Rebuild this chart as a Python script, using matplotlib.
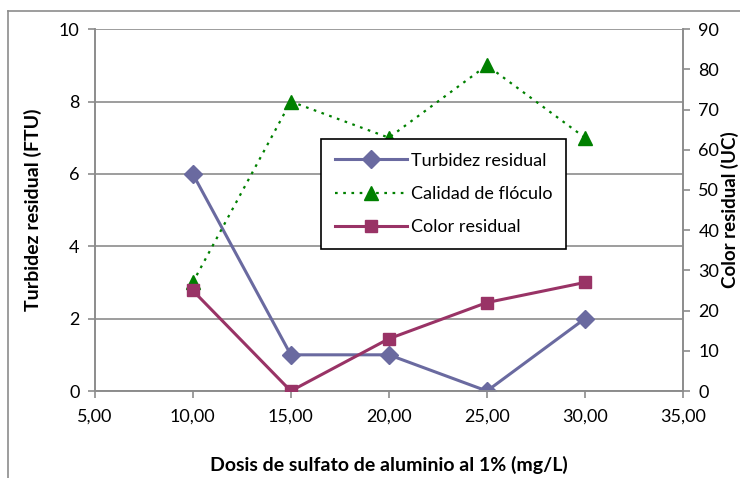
import matplotlib
matplotlib.use("Agg")
import matplotlib.pyplot as plt
from matplotlib.lines import Line2D
from matplotlib.ticker import FuncFormatter

dosis = [10, 15, 20, 25, 30]
turbidez = [6, 1, 1, 0, 2]
calidad = [3, 8, 7, 9, 7]
color_res = [25, 0, 13, 22, 27]

x_ticks = [5, 10, 15, 20, 25, 30, 35]
left_ticks = [0, 2, 4, 6, 8, 10]
right_ticks = [0, 10, 20, 30, 40, 50, 60, 70, 80, 90]

tick_font = "Lato"
title_font = "Lato"
gray = "#8c8c8c"

fig = plt.figure(figsize=(7.4, 4.78), dpi=100)
ax = fig.add_axes([0.128, 0.182, 0.795, 0.757])
ax2 = ax.twinx()

ax.set_xlim(5, 35)
ax.set_ylim(0, 10)
ax2.set_ylim(0, 90)
ax.set_xticks(x_ticks)
ax.set_yticks(left_ticks)
ax2.set_yticks(right_ticks)
ax.xaxis.set_major_formatter(FuncFormatter(lambda v, p: f"{v:.2f}".replace(".", ",")))

ax.grid(axis="y", color=gray, linewidth=1.2)
ax.set_axisbelow(True)
for a in (ax, ax2):
    a.spines["top"].set_visible(False)
    for s in ("left", "right", "bottom"):
        a.spines[s].set_color(gray)
        a.spines[s].set_linewidth(1.2)
    a.tick_params(colors=gray, length=5, width=1.2, labelcolor="black",
                  labelsize=13)
    for lab in a.get_xticklabels() + a.get_yticklabels():
        lab.set_fontfamily(tick_font)
ax.tick_params(axis="x", pad=8)
ax.tick_params(axis="y", pad=6)
ax2.tick_params(axis="y", pad=6)

l1, = ax.plot(dosis, turbidez, color="#6a6aa0", lw=2.2, marker="D",
              ms=9, label="Turbidez residual", zorder=3)
l2, = ax.plot(dosis, calidad, color="#008000", lw=1.6, ls=(0, (1.2, 2.5)),
              marker="^", ms=10, label="Calidad de flóculo", zorder=3)
l3, = ax2.plot(dosis, color_res, color="#993366", lw=2.2, marker="s",
               ms=9, label="Color residual", zorder=3)

leg = ax2.legend(handles=[l1, l2, l3], loc="upper left",
                 bbox_to_anchor=(0.385, 0.696), frameon=True, fancybox=False,
                 edgecolor="black", framealpha=1, handlelength=4.0,
                 handletextpad=0.2, borderpad=0.75, labelspacing=0.95,
                 borderaxespad=0,
                 prop={"family": tick_font, "size": 13})
leg.get_frame().set_linewidth(1.2)
leg.set_zorder(10)

ax.set_xlabel("Dosis de sulfato de aluminio al 1% (mg/L)", fontsize=14,
              fontweight="bold", family=title_font, labelpad=22)
ax.set_ylabel("Turbidez residual (FTU)", fontsize=14, fontweight="bold",
              family=title_font, labelpad=12)
ax2.set_ylabel("Color residual (UC)", fontsize=13.5, fontweight="bold",
               family=title_font, labelpad=1)

# outer chart frame
fig.add_artist(Line2D([8 / 740, 8 / 740], [0, 1 - 11 / 478], color=gray,
                      lw=1.2, transform=fig.transFigure))
fig.add_artist(Line2D([8 / 740, 1], [1 - 11 / 478, 1 - 11 / 478], color=gray,
                      lw=1.2, transform=fig.transFigure))

fig.savefig("out.png", dpi=100)
